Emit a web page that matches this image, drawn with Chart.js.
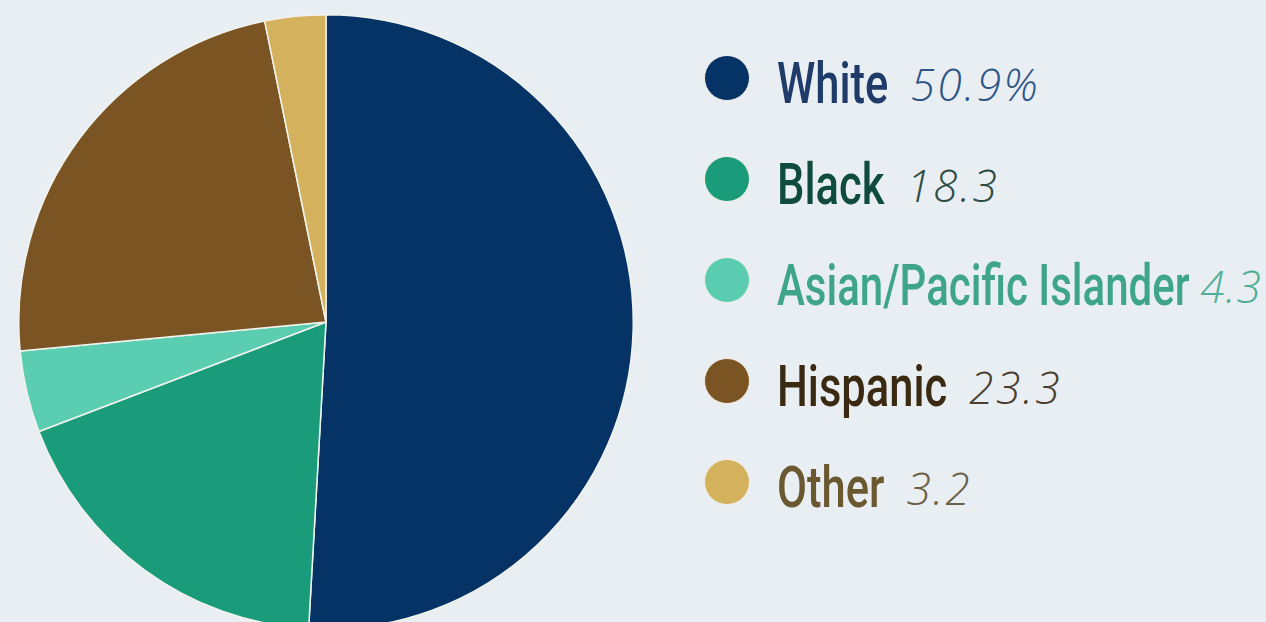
<!DOCTYPE html>
<html>
<head>
<meta charset="utf-8">
<script src="https://cdn.jsdelivr.net/npm/chart.js@4/dist/chart.umd.min.js"></script>
<style>
  html, body { margin: 0; padding: 0; background: #e9eef3; overflow: hidden; }
  body { width: 1266px; height: 622px; position: relative; }
  #pieBox { position: absolute; left: 18px; top: 14px; width: 616px; height: 616px; }
  #legend { position: absolute; left: 704px; top: 0; }
  .row { position: absolute; left: 0; height: 60px; display: flex; align-items: center; white-space: nowrap; }
  .dot { width: 46px; height: 46px; border-radius: 50%; box-sizing: border-box; border: 1.5px solid #f4f0e4; flex: none; }
  .lbl { margin-left: 27px; font-family: Roboto, sans-serif; font-weight: 500; font-size: 58px; transform: scaleX(0.75); transform-origin: left center; display: inline-block; position: relative; top: 5px; }
  .val { font-family: "Open Sans", sans-serif; font-style: italic; font-weight: 300; font-size: 44px; letter-spacing: 2.5px; display: inline-block; position: relative; top: 6px; }
</style>
</head>
<body>
<div id="pieBox"><canvas id="pie"></canvas></div>
<div id="legend"></div>
<script>
// данные: доли групп населения, %
const labels = ["White", "Black", "Asian/Pacific Islander", "Hispanic", "Other"]
const values = [50.9, 18.3, 4.3, 23.3, 3.2]
const valueTexts = ["50.9%", "18.3", "4.3", "23.3", "3.2"]

const sliceColors = ["#053366", "#1a9b79", "#5bcdb0", "#7a5422", "#d4b15c"]
const labelColors = ["#1e3b6a", "#0f4c3c", "#3ea58b", "#3b2a12", "#6a5831"]
const valueColors = ["#2d5486", "#2c4c44", "#4fae95", "#4a3e30", "#6b6046"]

new Chart(document.getElementById("pie"), {
  type: "pie",
  data: {
    labels,
    datasets: [{
      data: values,
      backgroundColor: sliceColors,
      borderColor: "#f1f3ee",
      borderWidth: 1.5
    }]
  },
  options: {
    responsive: true,
    maintainAspectRatio: false,
    animation: false,
    layout: { padding: 0 },
    plugins: {
      legend: { display: false },
      tooltip: { enabled: false }
    }
  }
})

// легенда справа, собирается из тех же массивов
const legend = document.getElementById("legend")
labels.forEach((name, i) => {
  const row = document.createElement("div")
  row.className = "row"
  row.style.top = (48 + i * 101) + "px"
  row.innerHTML =
    `<span class="dot" style="background:${sliceColors[i]}"></span>` +
    `<span class="lbl" style="color:${labelColors[i]}">${name}</span>`
  const val = document.createElement("span")
  val.className = "val"
  val.style.color = valueColors[i]
  val.textContent = valueTexts[i]
  row.appendChild(val)
  legend.appendChild(row)
})

// подвинуть значения вплотную к надписи (scaleX сжимает надпись визуально);
// если строка не влезает — уменьшить отступ и чуть сжать надпись
const rightEdge = 1262
const baseScale = 0.75
document.querySelectorAll(".row").forEach(row => {
  const lbl = row.querySelector(".lbl")
  const val = row.querySelector(".val")
  const w = lbl.getBoundingClientRect().width
  val.style.marginLeft = (w - lbl.offsetWidth + 22) + "px"
  if (val.getBoundingClientRect().right > rightEdge) {
    val.style.letterSpacing = "1px"
    const valW = val.getBoundingClientRect().width
    const lblLeft = lbl.getBoundingClientRect().left
    const fitW = rightEdge - valW - 11 - lblLeft
    const scale = baseScale * fitW / w
    lbl.style.transform = `scaleX(${scale})`
    val.style.marginLeft = (fitW - lbl.offsetWidth + 11) + "px"
  }
})
</script>
</body>
</html>
